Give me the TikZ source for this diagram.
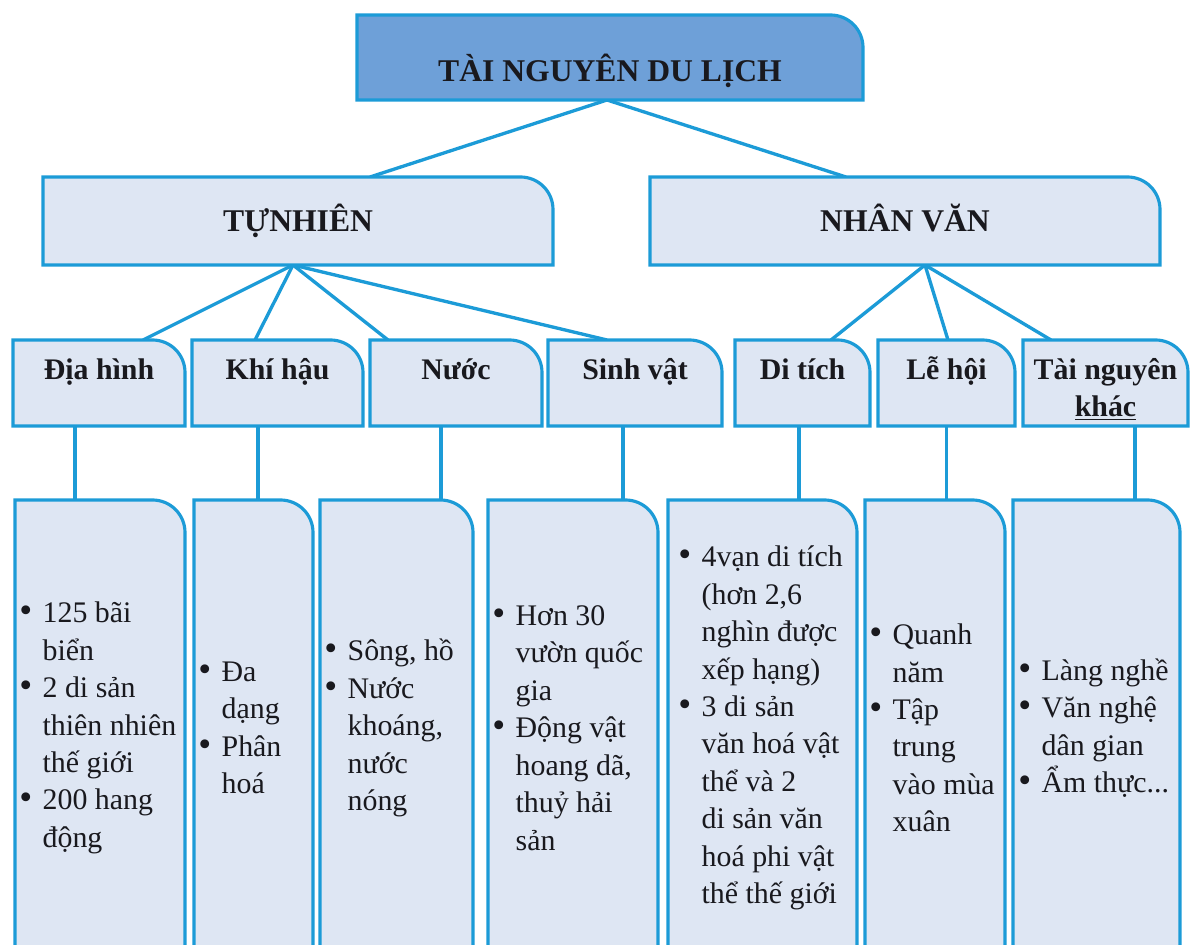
\documentclass[tikz,border=0pt]{standalone}
\usepackage{fontspec}
\setmainfont{Liberation Serif}
\usepackage{tikz}
\usepackage{xcolor}

\definecolor{edgeblue}{RGB}{28,155,215}
\definecolor{cardfill}{RGB}{222,230,243}
\definecolor{topfill}{RGB}{110,160,216}
\definecolor{ink}{RGB}{25,25,30}

\newcommand{\cardr}{0.65cm}
\newcommand{\card}[2][cardfill]{%
  \filldraw[edgeblue,line width=1.8pt,fill=#1] (#2.south west) -- (#2.north west)
    -- ([xshift=-\cardr]#2.north east) arc[start angle=90,end angle=0,radius=\cardr]
    -- (#2.south east) -- cycle;}
\newcommand{\bul}{\makebox[0.78em][l]{\fontsize{21}{21}\selectfont\textbullet}}
\newcommand{\cont}{\hspace*{0.78em}}

\begin{document}
\begin{tikzpicture}[box/.style={inner sep=0pt,outer sep=0pt},
  mid/.style={box,minimum height=1.72cm},
  leaf/.style={box,minimum height=9.2cm},
  link/.style={edgeblue,line width=1.9pt},
  head/.style={font=\bfseries\fontsize{18}{22}\selectfont,text=ink,inner sep=0pt},
  lbl/.style={font=\bfseries\fontsize{17}{21}\selectfont,text=ink,inner sep=0pt},
  txt/.style={font=\fontsize{17}{21.3}\selectfont,text=ink,align=left,inner sep=0pt}]
\useasboundingbox (0,0) rectangle (23.86,18.9);
\clip (0,0) rectangle (23.86,18.9);

% box frames
\node[box,minimum width=10.12cm,minimum height=1.7cm] (top) at (12.2,17.75) {};
\node[box,minimum width=10.2cm,minimum height=1.76cm] (tn) at (5.96,14.48) {};
\node[box,minimum width=10.2cm,minimum height=1.76cm] (nv) at (18.1,14.48) {};
\node[mid,minimum width=3.44cm] (dh) at (1.98,11.24) {};
\node[mid,minimum width=3.42cm] (kh) at (5.55,11.24) {};
\node[mid,minimum width=3.44cm] (nc) at (9.12,11.24) {};
\node[mid,minimum width=3.48cm] (sv) at (12.7,11.24) {};
\node[mid,minimum width=2.7cm] (dt) at (16.05,11.24) {};
\node[mid,minimum width=2.74cm] (lh) at (18.93,11.24) {};
\node[mid,minimum width=3.3cm] (tk) at (22.11,11.24) {};
\node[leaf,minimum width=3.4cm] (dh3) at (2.0,4.3) {};
\node[leaf,minimum width=2.38cm] (kh3) at (5.07,4.3) {};
\node[leaf,minimum width=3.06cm] (nc3) at (7.93,4.3) {};
\node[leaf,minimum width=3.4cm] (sv3) at (11.46,4.3) {};
\node[leaf,minimum width=3.78cm] (dt3) at (15.25,4.3) {};
\node[leaf,minimum width=2.8cm] (lh3) at (18.7,4.3) {};
\node[leaf,minimum width=3.34cm] (tk3) at (21.93,4.3) {};

% connectors
\draw[link] ([xshift=-0.06cm]top.south) -- ([xshift=1.44cm]tn.north);
\draw[link] ([xshift=-0.06cm]top.south) -- ([xshift=-1.18cm]nv.north);
\draw[link] ([xshift=-0.1cm]tn.south) -- ([xshift=0.88cm]dh.north);
\draw[link] ([xshift=-0.1cm]tn.south) -- ([xshift=-0.45cm]kh.north);
\draw[link] ([xshift=-0.1cm]tn.south) -- ([xshift=-1.36cm]nc.north);
\draw[link] ([xshift=-0.1cm]tn.south) -- ([xshift=-0.56cm]sv.north);
\draw[link] ([xshift=0.4cm]nv.south) -- ([xshift=0.57cm]dt.north);
\draw[link] ([xshift=0.4cm]nv.south) -- ([xshift=0.03cm]lh.north);
\draw[link] ([xshift=0.4cm]nv.south) -- ([xshift=-1.09cm]tk.north);
\draw[link] ([xshift=-0.48cm]dh.south) -- ([xshift=-0.48cm]dh.south |- dh3.north);
\draw[link] ([xshift=-0.39cm]kh.south) -- ([xshift=-0.39cm]kh.south |- kh3.north);
\draw[link] ([xshift=-0.3cm]nc.south) -- ([xshift=-0.3cm]nc.south |- nc3.north);
\draw[link] ([xshift=-0.24cm]sv.south) -- ([xshift=-0.24cm]sv.south |- sv3.north);
\draw[link] ([xshift=-0.07cm]dt.south) -- ([xshift=-0.07cm]dt.south |- dt3.north);
\draw[link] (lh.south) -- (lh.south |- lh3.north);
\draw[link] ([xshift=0.59cm]tk.south) -- ([xshift=0.59cm]tk.south |- tk3.north);

% cards
\card[topfill]{top}
\card{tn} \card{nv}
\card{dh} \card{kh} \card{nc} \card{sv} \card{dt} \card{lh} \card{tk}
\card{dh3} \card{kh3} \card{nc3} \card{sv3} \card{dt3} \card{lh3} \card{tk3}

% headings
\node[head,anchor=base] (t-top) at ([yshift=-0.49cm]top.center) {TÀI NGUYÊN DU LỊCH};
\node[head,anchor=base] (t-tn) at ([yshift=-0.22cm]tn.center) {TỰNHIÊN};
\node[head,anchor=base] (t-nv) at ([yshift=-0.22cm]nv.center) {NHÂN VĂN};
\node[lbl,anchor=base] (t-dh) at ([yshift=0.06cm]dh.center) {Địa hình};
\node[lbl,anchor=base] (t-kh) at ([yshift=0.06cm]kh.center) {Khí hậu};
\node[lbl,anchor=base] (t-nc) at ([yshift=0.06cm]nc.center) {Nước};
\node[lbl,anchor=base] (t-sv) at ([yshift=0.06cm]sv.center) {Sinh vật};
\node[lbl,anchor=base] (t-dt) at ([yshift=0.06cm]dt.center) {Di tích};
\node[lbl,anchor=base] (t-lh) at ([yshift=0.06cm]lh.center) {Lễ hội};
\node[lbl,anchor=base] (t-tk) at ([yshift=0.06cm]tk.center)
  {\begin{tabular}[t]{@{}c@{}}Tài nguyên\\\underline{khác}\end{tabular}};

% bullet lists
\node[txt,anchor=west] (x-dh) at ([xshift=0.08cm,yshift=0.04cm]dh3.west)
  {\bul 125 bãi\\\cont biển\\\bul 2 di sản\\\cont thiên nhiên\\\cont thế giới\\\bul 200 hang\\\cont động};
\node[txt,anchor=west] (x-kh) at ([xshift=0.08cm,yshift=0.04cm]kh3.west)
  {\bul Đa\\\cont dạng\\\bul Phân\\\cont hoá};
\node[txt,anchor=west] (x-nc) at ([xshift=0.08cm,yshift=0.04cm]nc3.west)
  {\bul Sông, hồ\\\bul Nước\\\cont khoáng,\\\cont nước\\\cont nóng};
\node[txt,anchor=west] (x-sv) at ([xshift=0.08cm,yshift=0.04cm]sv3.west)
  {\bul Hơn 30\\\cont vườn quốc\\\cont gia\\\bul Động vật\\\cont hoang dã,\\\cont thuỷ hải\\\cont sản};
\node[txt,anchor=west] (x-dt) at ([xshift=0.2cm,yshift=0.04cm]dt3.west)
  {\bul 4vạn di tích\\\cont (hơn 2,6\\\cont nghìn được\\\cont xếp hạng)\\\bul 3 di sản\\\cont văn hoá vật\\\cont thể và 2\\\cont di sản văn\\\cont hoá phi vật\\\cont thể thế giới};
\node[txt,anchor=west] (x-lh) at ([xshift=0.08cm,yshift=0.04cm]lh3.west)
  {\bul Quanh\\\cont năm\\\bul Tập\\\cont trung\\\cont vào mùa\\\cont xuân};
\node[txt,anchor=west] (x-tk) at ([xshift=0.1cm,yshift=0.04cm]tk3.west)
  {\bul Làng nghề\\\bul Văn nghệ\\\cont dân gian\\\bul Ẩm thực...};
\end{tikzpicture}
\end{document}
